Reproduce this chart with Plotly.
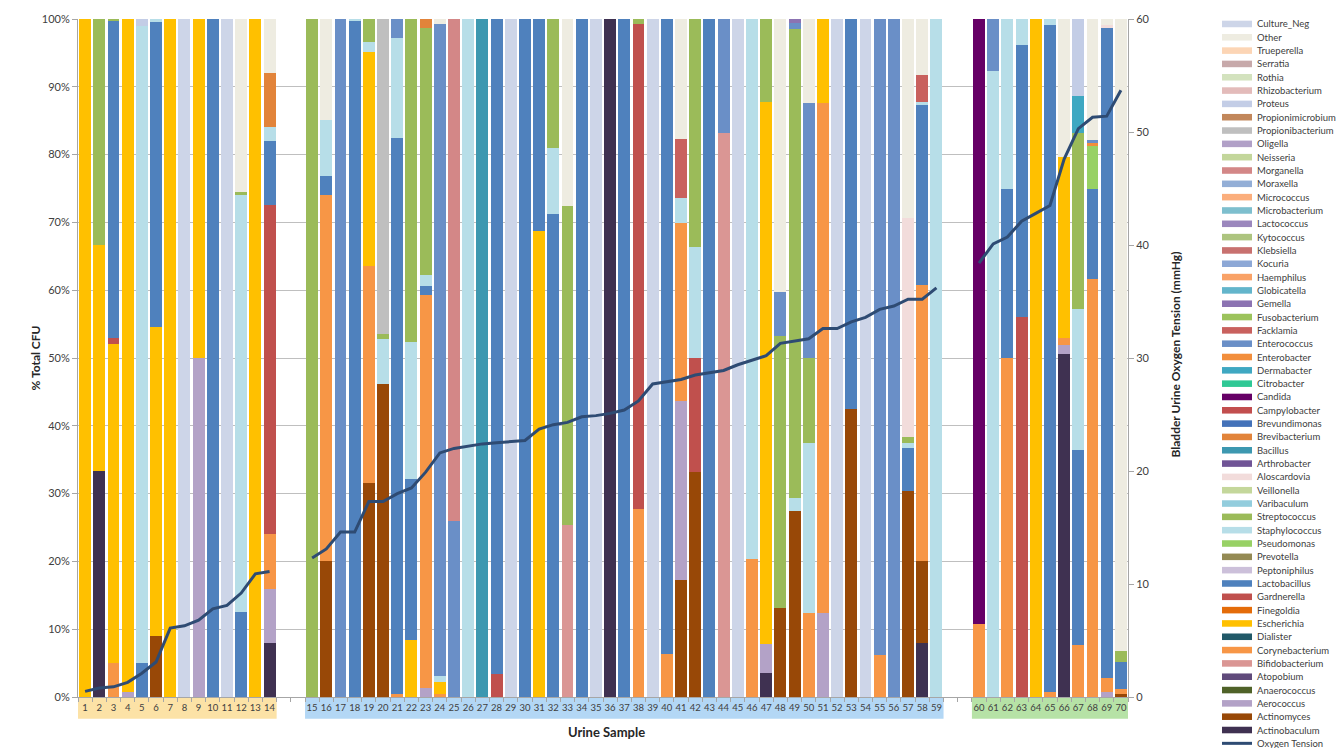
import plotly.graph_objects as go

# ---------------- DATA ----------------
SAMPLES = list(range(1, 71))
GROUPS = [(1, 14), (15, 59), (60, 70)]

OXYGEN_MMHG = [0.5, 0.8, 0.9, 1.3, 2.1, 3.1, 6.1, 6.3, 6.8, 7.8, 8.1, 9.2, 10.9, 11.1,
               12.3, 13.1, 14.6, 14.6, 17.3, 17.3, 18.0, 18.5, 19.9, 21.6, 22.0, 22.2, 22.4, 22.5,
               22.6, 22.7, 23.7, 24.1, 24.3, 24.8, 24.9, 25.1, 25.4, 26.2, 27.7, 27.9, 28.1, 28.5,
               28.7, 28.9, 29.4, 29.8, 30.2, 31.3, 31.5, 31.7, 32.6, 32.6, 33.2, 33.6, 34.3, 34.6,
               35.2, 35.2, 36.2,
               38.4, 40.1, 40.7, 42.1, 42.8, 43.5, 47.6, 50.3, 51.3, 51.4, 53.7]

# % total CFU per sample (sample number -> percent), one dict per taxon
Actinobaculum = {2: 33.3, 14: 8, 36: 100, 47: 3.6, 58: 8, 66: 50.6}
Actinomyces = {6: 9, 16: 20, 19: 31.6, 20: 46.2, 41: 17.3, 42: 33.2, 48: 13.1, 49: 27.4,
               53: 42.5, 57: 30.4, 58: 12.1, 70: 0.5}
Aerococcus = {4: 0.7, 9: 50, 14: 8, 23: 1.4, 41: 26.4, 47: 4.2, 51: 12.4, 66: 1.3, 69: 0.7}
Anaerococcus = {}
Atopobium = {}
Bifidobacterium = {33: 25.4, 44: 83.2}
Corynebacterium = {3: 5, 14: 8, 16: 54, 19: 31.9, 21: 0.5, 23: 57.9, 24: 0.5, 38: 27.8, 40: 6.4,
                   41: 26.2, 46: 20.4, 50: 12.4, 51: 75.2, 55: 6.2, 58: 40.7, 60: 10.8, 62: 50,
                   65: 0.7, 66: 1.1, 67: 7.7, 68: 61.6, 69: 2.1, 70: 0.7}
Dialister = {}
Escherichia = {1: 100, 2: 33.4, 3: 47, 4: 99.3, 6: 45.5, 7: 100, 9: 50, 13: 100, 19: 31.7,
               22: 8.4, 24: 1.7, 31: 68.7, 47: 80, 51: 12.4, 64: 100, 66: 26.6}
Finegoldia = {}
Gardnerella = {3: 1, 14: 48.5, 28: 3.4, 38: 71.5, 42: 16.8, 63: 56.1}
Lactobacillus = {3: 46.7, 5: 5, 6: 45, 10: 100, 12: 12.5, 14: 9.5, 16: 2.8, 18: 99.7, 21: 82,
                 22: 23.8, 23: 1.3, 28: 96.6, 30: 100, 31: 31.3, 32: 71.3, 34: 100, 37: 100,
                 40: 93.6, 43: 100, 53: 57.5, 57: 6.3, 58: 26.5, 62: 25, 63: 40, 65: 98.4,
                 67: 28.7, 68: 13.4, 69: 95.8, 70: 4}
Peptoniphilus = {}
Prevotella = {}
Pseudomonas = {68: 6.3}
Staphylococcus = {5: 94, 6: 0.5, 12: 61.5, 14: 2, 16: 8.3, 18: 0.3, 19: 1.4, 20: 6.6, 21: 14.7,
                  22: 20.2, 23: 1.6, 24: 0.9, 26: 100, 32: 9.7, 41: 3.7, 42: 16.4, 46: 79.6,
                  49: 2, 50: 25, 57: 0.7, 58: 0.4, 59: 100, 61: 92.3, 62: 25, 63: 3.9, 65: 0.9,
                  67: 20.9}
Streptococcus = {2: 33.3, 3: 0.3, 12: 0.5, 15: 100, 19: 3.4, 20: 0.8, 22: 47.6, 23: 36.4,
                 32: 19, 33: 47, 38: 0.7, 42: 33.6, 47: 12.2, 48: 40.2, 49: 69.1, 50: 12.6,
                 57: 1, 67: 25.9, 70: 1.6}
Varibaculum = {}
Veillonella = {}
Aloscardovia = {57: 32.2, 69: 0.5}
Arthrobacter = {}
Bacillus = {27: 100}
Brevibacterium = {14: 8, 23: 1.4}
Brevundimonas = {}
Campylobacter = {}
Candida = {60: 89.2}
Citrobacter = {}
Dermabacter = {67: 5.4}
Enterobacter = {68: 0.4}
Enterococcus = {17: 100, 21: 2.8, 24: 96.2, 25: 25.9, 44: 16.8, 48: 6.5, 49: 0.9, 50: 37.6,
                55: 93.8, 56: 100, 61: 7.7, 68: 0.5}
Facklamia = {41: 8.7, 58: 4}
Fusobacterium = {}
Gemella = {49: 0.6}
Globicatella = {}
Haemphilus = {}
Kocuria = {}
Klebsiella = {}
Kytococcus = {}
Lactococcus = {}
Microbacterium = {}
Micrococcus = {}
Moraxella = {}
Morganella = {25: 74.1}
Neisseria = {}
Oligella = {}
Propionibacterium = {20: 46.4}
Propionimicrobium = {}
Proteus = {5: 1, 67: 11.4}
Rhizobacterium = {}
Rothia = {}
Serratia = {}
Trueperella = {}
Other = {12: 25.5, 14: 8, 16: 14.9, 24: 0.7, 33: 27.6, 41: 17.7, 48: 40.2, 50: 12.4, 57: 29.4,
         58: 8.3, 66: 20.4, 68: 17.8, 69: 0.9, 70: 93.2}
Culture_Neg = {8: 100, 11: 100, 29: 100, 35: 100, 39: 100, 45: 100, 52: 100, 54: 100}

# stacking order, bottom to top
TAXA = [("Actinobaculum", Actinobaculum), ("Actinomyces", Actinomyces), ("Aerococcus", Aerococcus),
        ("Anaerococcus", Anaerococcus), ("Atopobium", Atopobium), ("Bifidobacterium", Bifidobacterium),
        ("Corynebacterium", Corynebacterium), ("Dialister", Dialister), ("Escherichia", Escherichia),
        ("Finegoldia", Finegoldia), ("Gardnerella", Gardnerella), ("Lactobacillus", Lactobacillus),
        ("Peptoniphilus", Peptoniphilus), ("Prevotella", Prevotella), ("Pseudomonas", Pseudomonas),
        ("Staphylococcus", Staphylococcus), ("Streptococcus", Streptococcus),
        ("Varibaculum", Varibaculum), ("Veillonella", Veillonella), ("Aloscardovia", Aloscardovia),
        ("Arthrobacter", Arthrobacter), ("Bacillus", Bacillus), ("Brevibacterium", Brevibacterium),
        ("Brevundimonas", Brevundimonas), ("Campylobacter", Campylobacter), ("Candida", Candida),
        ("Citrobacter", Citrobacter), ("Dermabacter", Dermabacter), ("Enterobacter", Enterobacter),
        ("Enterococcus", Enterococcus), ("Facklamia", Facklamia), ("Fusobacterium", Fusobacterium),
        ("Gemella", Gemella), ("Globicatella", Globicatella), ("Haemphilus", Haemphilus),
        ("Kocuria", Kocuria), ("Klebsiella", Klebsiella), ("Kytococcus", Kytococcus),
        ("Lactococcus", Lactococcus), ("Microbacterium", Microbacterium), ("Micrococcus", Micrococcus),
        ("Moraxella", Moraxella), ("Morganella", Morganella), ("Neisseria", Neisseria),
        ("Oligella", Oligella), ("Propionibacterium", Propionibacterium),
        ("Propionimicrobium", Propionimicrobium), ("Proteus", Proteus),
        ("Rhizobacterium", Rhizobacterium), ("Rothia", Rothia), ("Serratia", Serratia),
        ("Trueperella", Trueperella), ("Other", Other), ("Culture_Neg", Culture_Neg)]

# ---------------- STYLE ----------------
COLORS = {
    "Actinobaculum": "#3F3151", "Actinomyces": "#984807", "Aerococcus": "#B3A2C7",
    "Anaerococcus": "#4F6228", "Atopobium": "#604A7B", "Bifidobacterium": "#DA9694",
    "Corynebacterium": "#F79646", "Dialister": "#215968", "Escherichia": "#FFC000",
    "Finegoldia": "#E46C0A", "Gardnerella": "#C0504D", "Lactobacillus": "#4F81BD",
    "Peptoniphilus": "#CCC0DA", "Prevotella": "#948A54", "Pseudomonas": "#98D165",
    "Staphylococcus": "#B7DEE8", "Streptococcus": "#9BBB59", "Varibaculum": "#93CDDD",
    "Veillonella": "#C4D79B", "Aloscardovia": "#F2DCDB", "Arthrobacter": "#705496",
    "Bacillus": "#3D98B0", "Brevibacterium": "#E2843A", "Brevundimonas": "#4472B9",
    "Campylobacter": "#C24E4E", "Candida": "#660066", "Citrobacter": "#2FC895",
    "Dermabacter": "#3FA8C2", "Enterobacter": "#F28E3C", "Enterococcus": "#6A8FC7",
    "Facklamia": "#C9615E", "Fusobacterium": "#9CC35C", "Gemella": "#8C73B2",
    "Globicatella": "#63B5CB", "Haemphilus": "#F9A267", "Kocuria": "#8DA8D6",
    "Klebsiella": "#C8716F", "Kytococcus": "#ADC47F", "Lactococcus": "#9B87BD",
    "Microbacterium": "#7EBFCE", "Micrococcus": "#FBAE7C", "Moraxella": "#93AED6",
    "Morganella": "#D38787", "Neisseria": "#C3D69B", "Oligella": "#B1A0C7",
    "Propionibacterium": "#BFBFBF", "Propionimicrobium": "#C2875B", "Proteus": "#C3CDE6",
    "Rhizobacterium": "#E3BBBA", "Rothia": "#D3E2BE", "Serratia": "#C7A9AA",
    "Trueperella": "#FCD5B5", "Other": "#EEECE1", "Culture_Neg": "#CDD5E8",
}
LINE_COLOR = "#2E4B73"
BAND_COLORS = ["#FCE2A6", "#B3D7F5", "#B6E2A6"]
FONT = "Lato, 'Open Sans', sans-serif"
TXT = "#404040"
AX = "#A6A6A6"

GAP = 2  # empty category slots between groups


def group_of(s):
    for g, (a, b) in enumerate(GROUPS):
        if a <= s <= b:
            return g
    return 0


def xpos(s):
    return (s - 1) + GAP * group_of(s)


X = [xpos(s) for s in SAMPLES]

fig = go.Figure()
for name, vals in TAXA:
    fig.add_trace(go.Bar(
        x=X, y=[vals.get(s, 0) for s in SAMPLES], name=name,
        marker=dict(color=COLORS[name], line=dict(width=0)),
        width=0.84, showlegend=False,
        hovertemplate=name + " %{y}%<extra></extra>"))

# oxygen tension line, broken between sample groups
lx, ly = [], []
for g, (a, b) in enumerate(GROUPS):
    for s in range(a, b + 1):
        lx.append(xpos(s))
        ly.append(OXYGEN_MMHG[s - 1])
    lx.append(None)
    ly.append(None)
fig.add_trace(go.Scatter(x=lx, y=ly, mode="lines", yaxis="y2", name="Oxygen Tension",
                         line=dict(color=LINE_COLOR, width=3), connectgaps=False,
                         showlegend=False))

# plot geometry (pixels)
W, H = 1342, 748
L, R, T, B = 78, 1128, 14, 697
PW, PH = R - L, B - T


def px_x(p):
    return (p - L) / PW


def px_y(p):
    return (B - p) / PH


shapes = []
annotations = []

# label bands under the x axis
for g, (a, b) in enumerate(GROUPS):
    shapes.append(dict(type="rect", xref="x", yref="paper", layer="below",
                       x0=xpos(a) - 0.5, x1=xpos(b) + 0.5, y0=px_y(698), y1=px_y(719),
                       fillcolor=BAND_COLORS[g], line=dict(width=0)))

# manual legend (top to bottom = reverse stack order)
legend_names = [n for n, _ in TAXA][::-1]
y0 = 19.0
step = 13.42
for i, name in enumerate(legend_names):
    py = y0 + i * step
    shapes.append(dict(type="rect", xref="paper", yref="paper",
                       x0=px_x(1222), x1=px_x(1252), y0=px_y(py + 3.3), y1=px_y(py - 3.3),
                       fillcolor=COLORS[name], line=dict(width=0)))
    annotations.append(dict(xref="paper", yref="paper", x=px_x(1255), y=px_y(py),
                            text=name, showarrow=False, xanchor="left", yanchor="middle",
                            font=dict(family=FONT, size=9.5, color=TXT)))
py = y0 + len(legend_names) * step
shapes.append(dict(type="line", xref="paper", yref="paper", x0=px_x(1222), x1=px_x(1252),
                   y0=px_y(py), y1=px_y(py), line=dict(color=LINE_COLOR, width=3)))
annotations.append(dict(xref="paper", yref="paper", x=px_x(1255), y=px_y(py),
                        text="Oxygen Tension", showarrow=False, xanchor="left", yanchor="middle",
                        font=dict(family=FONT, size=9.5, color=TXT)))

# axis titles
annotations.append(dict(xref="paper", yref="paper", x=px_x(35), y=px_y(356),
                        xanchor="center", yanchor="middle", text="<b>% Total CFU</b>",
                        textangle=-90, showarrow=False, font=dict(family=FONT, size=12, color="#262626")))
annotations.append(dict(xref="paper", yref="paper", x=px_x(606), y=px_y(732),
                        xanchor="center", yanchor="middle",
                        text="<b>Urine Sample</b>", showarrow=False,
                        font=dict(family=FONT, size=13, color="#262626")))
annotations.append(dict(xref="paper", yref="paper", x=px_x(1176), y=px_y(352),
                        xanchor="center", yanchor="middle",
                        text="<b>Bladder Urine Oxygen Tension (mmHg)</b>", textangle=-90,
                        showarrow=False, font=dict(family=FONT, size=12, color="#262626")))

boundaries = [xpos(SAMPLES[0]) - 0.5 + k for k in range(int(xpos(SAMPLES[-1]) - xpos(SAMPLES[0])) + 2)]

fig.update_layout(
    width=W, height=H,
    margin=dict(l=L, r=W - R, t=T, b=H - B, pad=0),
    paper_bgcolor="white", plot_bgcolor="white",
    barmode="stack", bargap=0.16,
    font=dict(family=FONT, color=TXT),
    showlegend=False,
    shapes=shapes, annotations=annotations,
    xaxis=dict(range=[-0.5, xpos(SAMPLES[-1]) + 0.5], tickmode="array", tickvals=X,
               ticktext=[str(s) for s in SAMPLES], ticks="", tickfont=dict(size=9.5, color=TXT),
               showgrid=False, zeroline=False, showline=True, linecolor=AX, linewidth=1,
               ticklabelstandoff=2,
               minor=dict(tickmode="array", tickvals=boundaries, ticks="outside", ticklen=4,
                          tickcolor=AX, showgrid=False)),
    yaxis=dict(range=[0, 100], tickmode="array", tickvals=list(range(0, 101, 10)),
               ticktext=[f"{v}%" for v in range(0, 101, 10)], tickfont=dict(size=11, color=TXT),
               showgrid=True, gridcolor="#BFBFBF", gridwidth=1, zeroline=False,
               showline=True, linecolor=AX, ticks="outside", ticklen=5, tickcolor=AX),
    yaxis2=dict(range=[0, 60], overlaying="y", side="right", tickmode="array",
                tickvals=list(range(0, 61, 10)), tickfont=dict(size=11, color=TXT),
                showgrid=False, zeroline=False, showline=True, linecolor=AX,
                ticks="outside", ticklen=5, tickcolor=AX),
)

fig.write_html("out.html", config={"displayModeBar": False},
               post_script="document.body.style.margin='0';")
